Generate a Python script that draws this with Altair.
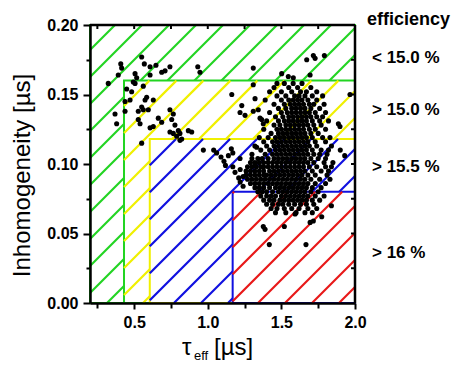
import math
import altair as alt
import pandas as pd

# ---------------- data ----------------
# efficiency regions (tau_eff lower bound, inhomogeneity upper bound)
region_names = ["green", "yellow", "blue", "red"]
region_x0 = [0.2, 0.431, 0.606, 1.169]
region_x1 = [2.0, 2.0, 2.0, 2.0]
region_y0 = [0.0, 0.0, 0.0, 0.0]
region_y1 = [0.2, 0.160, 0.118, 0.080]

eff_labels = ["< 15.0 %", "> 15.0 %", "> 15.5 %", "> 16 %"]
eff_label_y = [0.176, 0.139, 0.098, 0.036]

x_ticks = [0.25, 0.5, 0.75, 1.0, 1.25, 1.5, 1.75, 2.0]
y_ticks = [0.0, 0.025, 0.05, 0.075, 0.1, 0.125, 0.15, 0.175, 0.2]

# sparse measurement points
sparse_x = [0.551, 0.409, 0.415, 0.569, 0.608, 0.648, 0.743, 0.710, 0.687, 0.932, 0.947,
            0.392, 0.506, 0.517, 0.494, 0.506, 0.608, 0.324, 0.449, 0.483, 0.562, 0.585,
            0.574, 0.630, 1.163, 0.438, 0.472, 0.551, 0.562, 0.528, 0.596, 0.370, 0.438,
            0.743, 0.766, 0.755, 0.381, 0.528, 0.540, 0.664, 0.687, 0.608, 0.630, 0.777,
            0.800, 0.811, 0.743, 0.766, 0.868, 0.891, 0.789, 0.823, 0.551, 0.811,
            1.309, 1.717, 1.729, 1.792, 1.672, 1.502, 1.547, 1.581, 1.695, 1.966, 1.309,
            1.321, 1.253, 1.309, 1.355, 1.231, 1.377, 1.219, 1.343, 1.366, 1.887, 1.898,
            1.332, 1.321,
            1.04, 1.06, 1.09, 1.11, 1.12, 1.14, 1.16, 1.17, 0.97, 1.185, 1.22, 1.24, 1.219, 1.17,
            1.90, 1.93, 1.22, 1.24, 1.21,
            1.377, 1.389, 1.520, 1.418, 1.667, 1.593, 1.695, 1.717, 1.774, 1.84]
sparse_y = [0.177, 0.172, 0.169, 0.172, 0.170, 0.171, 0.170, 0.167, 0.166, 0.170, 0.166,
            0.164, 0.165, 0.162, 0.159, 0.158, 0.164, 0.158, 0.154, 0.152, 0.156, 0.148,
            0.146, 0.146, 0.150, 0.145, 0.146, 0.141, 0.139, 0.138, 0.139, 0.136, 0.138,
            0.139, 0.136, 0.132, 0.129, 0.132, 0.129, 0.133, 0.130, 0.126, 0.127, 0.128,
            0.124, 0.122, 0.123, 0.122, 0.124, 0.123, 0.120, 0.118, 0.115, 0.117,
            0.169, 0.178, 0.176, 0.178, 0.175, 0.165, 0.163, 0.162, 0.164, 0.150, 0.157,
            0.147, 0.135, 0.138, 0.133, 0.142, 0.129, 0.137, 0.139, 0.132, 0.129, 0.127,
            0.112, 0.099,
            0.110, 0.108, 0.105, 0.102, 0.099, 0.106, 0.111, 0.108, 0.110, 0.094, 0.096, 0.091, 0.104, 0.098,
            0.110, 0.106, 0.087, 0.084, 0.090,
            0.055, 0.053, 0.055, 0.042, 0.042, 0.064, 0.058, 0.059, 0.062, 0.070]

# dense cluster, read row by row (inhomogeneity of the row, tau_eff of the points)
row_y = [0.158, 0.155, 0.152, 0.149, 0.146, 0.143, 0.140, 0.137, 0.134, 0.131, 0.128,
         0.125, 0.122, 0.119, 0.116, 0.113, 0.110, 0.107, 0.104, 0.101, 0.098, 0.095,
         0.092, 0.089, 0.086, 0.083, 0.080, 0.077, 0.074, 0.071, 0.068, 0.065]
row_x = [
    [1.47, 1.52, 1.58, 1.64],
    [1.45, 1.55, 1.61, 1.70],
    [1.42, 1.50, 1.57, 1.63, 1.67, 1.74],
    [1.47, 1.53, 1.59, 1.62, 1.66, 1.71, 1.78],
    [1.39, 1.50, 1.55, 1.58, 1.61, 1.64, 1.68, 1.74],
    [1.45, 1.52, 1.56, 1.59, 1.62, 1.65, 1.69, 1.72, 1.79],
    [1.48, 1.53, 1.57, 1.60, 1.63, 1.66, 1.70, 1.76],
    [1.42, 1.50, 1.54, 1.57, 1.60, 1.63, 1.66, 1.69, 1.73, 1.80],
    [1.46, 1.51, 1.55, 1.58, 1.61, 1.64, 1.67, 1.70, 1.74, 1.78],
    [1.40, 1.48, 1.52, 1.55, 1.58, 1.61, 1.64, 1.67, 1.71, 1.76, 1.82],
    [1.45, 1.49, 1.53, 1.56, 1.59, 1.62, 1.65, 1.68, 1.72, 1.77],
    [1.38, 1.47, 1.50, 1.53, 1.56, 1.59, 1.62, 1.65, 1.69, 1.73, 1.80],
    [1.43, 1.48, 1.51, 1.54, 1.57, 1.60, 1.63, 1.66, 1.70, 1.75],
    [1.35, 1.41, 1.46, 1.49, 1.52, 1.55, 1.58, 1.61, 1.64, 1.67, 1.71, 1.78, 1.83],
    [1.38, 1.44, 1.47, 1.50, 1.53, 1.56, 1.59, 1.62, 1.65, 1.68, 1.73, 1.80],
    [1.32, 1.40, 1.45, 1.48, 1.51, 1.54, 1.57, 1.60, 1.63, 1.66, 1.69, 1.74, 1.84],
    [1.36, 1.42, 1.46, 1.49, 1.52, 1.55, 1.58, 1.61, 1.64, 1.67, 1.71, 1.77, 1.82],
    [1.30, 1.39, 1.44, 1.47, 1.50, 1.53, 1.56, 1.59, 1.62, 1.65, 1.68, 1.72, 1.76, 1.81],
    [1.30, 1.34, 1.37, 1.41, 1.45, 1.48, 1.51, 1.54, 1.57, 1.60, 1.63, 1.66,
     1.70, 1.75, 1.80],
    [1.29, 1.32, 1.35, 1.38, 1.41, 1.44, 1.47, 1.50, 1.53, 1.56, 1.59, 1.62, 1.65,
     1.68, 1.72, 1.79, 1.85],
    [1.27, 1.30, 1.33, 1.36, 1.38, 1.41, 1.44, 1.47, 1.50, 1.53, 1.56, 1.59, 1.62,
     1.65, 1.69, 1.74, 1.80, 1.84],
    [1.26, 1.29, 1.32, 1.35, 1.38, 1.42, 1.45, 1.48, 1.51, 1.54, 1.57, 1.60,
     1.63, 1.66, 1.71, 1.77, 1.82],
    [1.26, 1.29, 1.32, 1.35, 1.38, 1.40, 1.43, 1.46, 1.49, 1.52, 1.55, 1.58,
     1.61, 1.64, 1.68, 1.73, 1.81],
    [1.27, 1.30, 1.33, 1.36, 1.39, 1.42, 1.45, 1.48, 1.51, 1.54, 1.57, 1.60,
     1.63, 1.66, 1.70, 1.76, 1.83],
    [1.29, 1.32, 1.35, 1.38, 1.41, 1.44, 1.47, 1.50, 1.53, 1.56, 1.59,
     1.62, 1.65, 1.68, 1.73, 1.80],
    [1.32, 1.35, 1.38, 1.42, 1.46, 1.49, 1.52, 1.55, 1.58, 1.61, 1.64,
     1.67, 1.71, 1.77],
    [1.34, 1.37, 1.40, 1.44, 1.48, 1.51, 1.54, 1.57, 1.60, 1.63, 1.66,
     1.70, 1.75],
    [1.36, 1.40, 1.43, 1.46, 1.50, 1.53, 1.56, 1.59, 1.62, 1.65, 1.68, 1.73, 1.79],
    [1.38, 1.42, 1.45, 1.49, 1.52, 1.55, 1.58, 1.61, 1.64, 1.67, 1.71, 1.76],
    [1.40, 1.44, 1.48, 1.51, 1.55, 1.59, 1.63, 1.67, 1.72],
    [1.43, 1.47, 1.52, 1.57, 1.62, 1.68, 1.74],
    [1.46, 1.53, 1.60, 1.66, 1.71],
]

# ---------------- styling ----------------
XMIN, XMAX, YMIN, YMAX = 0.2, 2.0, 0.0, 0.2
W, H = 265, 278
GREEN, YELLOW, BLUE, RED = "#22d422", "#f0f000", "#1010e0", "#e81818"
hatch_colors = [GREEN, YELLOW, BLUE, RED]
border_colors = [GREEN, GREEN, YELLOW, BLUE]
hatch_spacing = 27.0            # px between hatch lines
hatch_phase = [25.0, 7.0, 11.0, 14.0]
FONT = "Liberation Sans"

xs = alt.Scale(domain=[XMIN, XMAX], nice=False, zero=False)
ys = alt.Scale(domain=[YMIN, YMAX], nice=False, zero=False)


def hatch_segments(x0, x1, y0, y1, spacing, phase):
    """45-degree hatch lines (in screen space) clipped to a data rectangle."""
    u0 = (x0 - XMIN) / (XMAX - XMIN) * W
    u1 = (x1 - XMIN) / (XMAX - XMIN) * W
    vt = (YMAX - y1) / (YMAX - YMIN) * H
    vb = (YMAX - y0) / (YMAX - YMIN) * H
    kmin = math.ceil((u0 + vt - phase) / spacing)
    kmax = math.floor((u1 + vb - phase) / spacing)
    rows = []
    for k in range(kmin, kmax + 1):
        c = phase + k * spacing
        ua = max(u0, c - vb)
        ub = min(u1, c - vt)
        if ub - ua > 0.5:
            rows.append(dict(
                xa=XMIN + ua / W * (XMAX - XMIN), ya=YMAX - (c - ua) / H * (YMAX - YMIN),
                xb=XMIN + ub / W * (XMAX - XMIN), yb=YMAX - (c - ub) / H * (YMAX - YMIN)))
    return pd.DataFrame(rows)


x_axis = alt.Axis(
    values=x_ticks, format=".1f", title=None, grid=False,
    labelExpr="round(datum.value*4) % 2 == 0 ? datum.label : ''",
    tickSize={"condition": {"test": "round(datum.value*4) % 2 == 0", "value": 6}, "value": 5},
    domainColor="black", domainWidth=2.5, tickColor="black", tickWidth=2,
    labelFont=FONT, labelFontSize=16, labelFontWeight="bold", labelColor="black",
    labelPadding=5, labelFlush=False, labelOverlap=False, zindex=1)
y_axis = alt.Axis(
    values=y_ticks, format=".2f", grid=False,
    title="Inhomogeneity [µs]", titleFont=FONT, titleFontSize=24, titleFontWeight="normal",
    titleColor="black", titleAngle=270, titleX=-68, titleY=150, titleAlign="center",
    titleBaseline="middle",
    labelExpr="round(datum.value*40) % 2 == 0 ? datum.label : ''",
    tickSize={"condition": {"test": "round(datum.value*40) % 2 == 0", "value": 7}, "value": 4},
    domainColor="black", domainWidth=2.5, tickColor="black", tickWidth=2,
    labelFont=FONT, labelFontSize=16, labelFontWeight="bold", labelColor="black",
    labelPadding=5, labelFlush=False, labelOverlap=False, zindex=1)

layers = []
for i, name in enumerate(region_names):
    rect_df = pd.DataFrame({"x0": [region_x0[i]], "x1": [region_x1[i]],
                            "y0": [region_y0[i]], "y1": [region_y1[i]]})
    rect = alt.Chart(rect_df).mark_rect(
        fill="white", stroke=border_colors[i], strokeWidth=2
    ).encode(
        x=alt.X("x0:Q", scale=xs, axis=x_axis),
        x2="x1",
        y=alt.Y("y0:Q", scale=ys, axis=y_axis),
        y2="y1",
    )
    hdf = hatch_segments(region_x0[i], region_x1[i], region_y0[i], region_y1[i],
                         hatch_spacing, hatch_phase[i])
    hatch = alt.Chart(hdf).mark_rule(color=hatch_colors[i], strokeWidth=2.2).encode(
        x=alt.X("xa:Q", scale=xs, axis=x_axis), x2="xb",
        y=alt.Y("ya:Q", scale=ys, axis=y_axis), y2="yb",
    )
    layers += [rect, hatch]

# points
pts_x = list(sparse_x)
pts_y = list(sparse_y)
for yv, xl in zip(row_y, row_x):
    pts_x += xl
    pts_y += [yv] * len(xl)
pts = alt.Chart(pd.DataFrame({"tau": pts_x, "inh": pts_y})).mark_circle(
    color="black", opacity=1, size=26
).encode(
    x=alt.X("tau:Q", scale=xs, axis=x_axis),
    y=alt.Y("inh:Q", scale=ys, axis=y_axis),
)
layers.append(pts)

# frame (top and right) and inward ticks
frame_top = alt.Chart(pd.DataFrame({"a": [0]})).mark_rule(color="black", strokeWidth=2.5).encode(
    x=alt.X(datum=XMIN, scale=xs, axis=x_axis), x2=alt.X2(datum=XMAX),
    y=alt.Y(datum=YMAX, scale=ys, axis=y_axis))
frame_right = alt.Chart(pd.DataFrame({"a": [0]})).mark_rule(color="black", strokeWidth=2.5).encode(
    x=alt.X(datum=XMAX, scale=xs, axis=x_axis),
    y=alt.Y(datum=YMIN, scale=ys, axis=y_axis), y2=alt.Y2(datum=YMAX))
top_ticks = alt.Chart(pd.DataFrame({"t": x_ticks[:-1]})).mark_rule(color="black", strokeWidth=2).encode(
    x=alt.X("t:Q", scale=xs, axis=x_axis), y=alt.value(0), y2=alt.value(4))
right_ticks = alt.Chart(pd.DataFrame({"t": y_ticks[1:-1]})).mark_rule(color="black", strokeWidth=2).encode(
    y=alt.Y("t:Q", scale=ys, axis=y_axis), x=alt.value(W), x2=alt.value(W - 4))
layers += [frame_top, frame_right, top_ticks, right_ticks]

# efficiency labels on the right
eff_text = alt.Chart(pd.DataFrame({"label": eff_labels, "y": eff_label_y})).mark_text(
    align="left", baseline="middle", font=FONT, fontSize=17, fontWeight="bold", color="black"
).encode(
    y=alt.Y("y:Q", scale=ys, axis=y_axis), x=alt.value(W + 17), text="label:N")
eff_head = alt.Chart(pd.DataFrame({"label": ["efficiency"]})).mark_text(
    align="left", baseline="middle", font=FONT, fontSize=18, fontWeight="bold", color="black"
).encode(x=alt.value(W + 12), y=alt.value(-5), text="label:N")

# x title: tau_eff [µs]
tau = alt.Chart(pd.DataFrame({"s": ["τ"]})).mark_text(
    align="left", baseline="alphabetic", font=FONT, fontSize=24, color="black"
).encode(x=alt.value(92), y=alt.value(H + 52), text="s:N")
sub = alt.Chart(pd.DataFrame({"s": ["eff"]})).mark_text(
    align="left", baseline="alphabetic", font=FONT, fontSize=13, color="black"
).encode(x=alt.value(104), y=alt.value(H + 57), text="s:N")
unit = alt.Chart(pd.DataFrame({"s": ["[µs]"]})).mark_text(
    align="left", baseline="alphabetic", font=FONT, fontSize=24, color="black"
).encode(x=alt.value(124), y=alt.value(H + 52), text="s:N")
layers += [eff_text, eff_head, tau, sub, unit]

chart = alt.layer(*layers).properties(
    width=W, height=H,
    padding={"left": 90, "top": 25, "right": 101, "bottom": 75},
    autosize=alt.AutoSizeParams(type="none"),
    background="white",
).configure_view(stroke=None)

chart.save("out.html", embed_options={"renderer": "svg", "actions": False})
